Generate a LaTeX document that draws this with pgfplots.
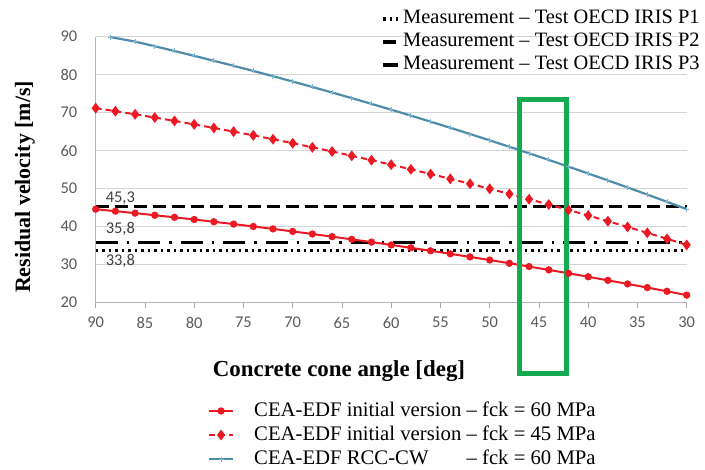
\documentclass[border=0pt]{standalone}
\usepackage{pgfplots}
\pgfplotsset{compat=1.18}
\usepackage{fontspec}
\setmainfont{Liberation Serif}
\newfontfamily\carlito{Carlito}
\definecolor{cred}{RGB}{235,25,35}
\definecolor{cblue}{RGB}{80,140,170}
\definecolor{cblue2}{RGB}{120,180,205}
\definecolor{cgreen}{RGB}{20,170,80}
\definecolor{cgrid}{RGB}{212,212,212}
\definecolor{ctick}{RGB}{90,90,90}
\pgfplotsset{base/.style={
  at={(95.7bp,167.3bp)}, anchor=south west, scale only axis, width=591bp, height=266bp,
  xmin=30, xmax=90, ymin=20, ymax=90, x dir=reverse, clip=false,
}}
\begin{document}
\begin{tikzpicture}
\useasboundingbox (0,0) rectangle (705bp,470bp);
\begin{axis}[base,
  axis lines*=left, axis line style={ctick!45, line width=1bp},
  xtick={30,35,...,90}, ytick={20,30,...,90},
  ymajorgrids, grid style={cgrid, line width=1.3bp},
  tick align=outside, xtick style={ctick!55, line width=0.8bp}, major tick length=5bp,
  ytick style={draw=none},
  ticklabel style={font=\carlito\fontsize{16.5}{16.5}\selectfont, text=ctick},
  /pgf/number format/assume math mode=true,
  xticklabel style={yshift=-6bp}, yticklabel style={xshift=-10bp},
  legend image code/.code={\draw[#1] (0bp,0bp) -- (15bp,0bp);},
  legend style={at={(0.484,1.1004)}, anchor=north west, draw=none, fill=none, inner sep=0pt, outer sep=0pt,
    font=\rmfamily\fontsize{20.5}{23}\selectfont, row sep=5bp,
    nodes={inner sep=0pt, text height=14bp, text depth=4bp, font=\rmfamily\fontsize{20.5}{23}\selectfont},
    /tikz/every odd column/.append style={column sep=3bp}},
  legend cell align=left,
]
\addplot[black, line width=3.5bp, dash pattern=on 2.5bp off 4bp] coordinates {(90,33.8) (30,33.8)};
\addlegendentry{Measurement – Test OECD IRIS P1}
\addplot[black, line width=3.5bp, dash pattern=on 13bp off 6bp] coordinates {(90,45.3) (30,45.3)};
\addlegendentry{Measurement – Test OECD IRIS P2}
\addplot[black, line width=3.5bp, dash pattern=on 22bp off 9bp on 2.5bp off 9bp] coordinates {(90,35.8) (30,35.8)};
\addlegendentry{Measurement – Test OECD IRIS P3}
\node[font=\carlito\fontsize{16.5}{16.5}\selectfont, text=ctick!70!black] at (axis cs:87.5,47.55) {45,3};
\node[font=\carlito\fontsize{16.5}{16.5}\selectfont, text=ctick!70!black] at (axis cs:87.5,39.4) {35,8};
\node[font=\carlito\fontsize{16.5}{16.5}\selectfont, text=ctick!70!black] at (axis cs:87.5,30.87) {33,8};
\end{axis}
\begin{axis}[base, hide axis,
  legend image code/.code={\draw[mark repeat=2,mark phase=2,#1] plot coordinates {(0bp,0bp) (12bp,0bp) (24bp,0bp)};},
  legend style={at={(0.19,-0.3733)}, anchor=north west, draw=none, fill=none, inner sep=0pt, outer sep=0pt,
    font=\rmfamily\fontsize{20.8}{23}\selectfont, row sep=6bp,
    nodes={inner sep=0pt, text height=14bp, text depth=4bp, font=\rmfamily\fontsize{20.8}{23}\selectfont},
    /tikz/every odd column/.append style={column sep=20bp}},
  legend cell align=left,
]
\addplot[cred, line width=2bp, mark=*, mark size=2.6bp, mark options={solid}] coordinates {
(90,44.60) (88,44.09) (86,43.57) (84,43.02) (82,42.47) (80,41.89) (78,41.30) (76,40.69)
(74,40.06) (72,39.42) (70,38.76) (68,38.08) (66,37.38) (64,36.67) (62,35.95) (60,35.20)
(58,34.44) (56,33.66) (54,32.86) (52,32.05) (50,31.22) (48,30.38) (46,29.51) (44,28.63)
(42,27.74) (40,26.82) (38,25.89) (36,24.94) (34,23.98) (32,23.00) (30,22.00)};
\addlegendentry{CEA-EDF initial version – fck = 60 MPa}
\addplot[cred, line width=2bp, dash pattern=on 6bp off 4bp, mark=diamond*, mark size=3.8bp, mark options={solid}] coordinates {
(90,71.20) (88,70.40) (86,69.57) (84,68.72) (82,67.84) (80,66.93) (78,65.99) (76,65.03)
(74,64.04) (72,63.02) (70,61.97) (68,60.89) (66,59.79) (64,58.66) (62,57.50) (60,56.32)
(58,55.10) (56,53.86) (54,52.59) (52,51.30) (50,49.97) (48,48.62) (46,47.24) (44,45.83)
(42,44.40) (40,42.94) (38,41.44) (36,39.93) (34,38.38) (32,36.81) (30,35.21)};
\addlegendentry{CEA-EDF initial version – fck = 45 MPa}
\addplot[cblue, line width=2.2bp, mark=+, mark size=2.5bp, mark options={cblue2, line width=1bp}] coordinates {
(88.5,89.90) (86,88.71) (84,87.48) (82,86.24) (80,84.96) (78,83.66) (76,82.34) (74,80.99)
(72,79.61) (70,78.20) (68,76.77) (66,75.32) (64,73.83) (62,72.32) (60,70.79) (58,69.23)
(56,67.64) (54,66.03) (52,64.39) (50,62.72) (48,61.03) (46,59.31) (44,57.57) (42,55.80)
(40,54.00) (38,52.18) (36,50.33) (34,48.45) (32,46.55) (30,44.62)};
\addlegendentry{\rlap{CEA-EDF RCC-CW}\phantom{CEA-EDF initial version} – fck = 60 MPa}
\draw[cgreen, line width=5bp] (axis cs:46.95,73.4) rectangle (axis cs:42.2,1.5);
\end{axis}
\node[font=\bfseries\fontsize{22}{22}\selectfont, rotate=90] at (25bp,283bp) {Residual velocity [m/s]};
\node[font=\bfseries\fontsize{23}{23}\selectfont] at (339bp,99bp) {Concrete cone angle [deg]};
\end{tikzpicture}
\end{document}
